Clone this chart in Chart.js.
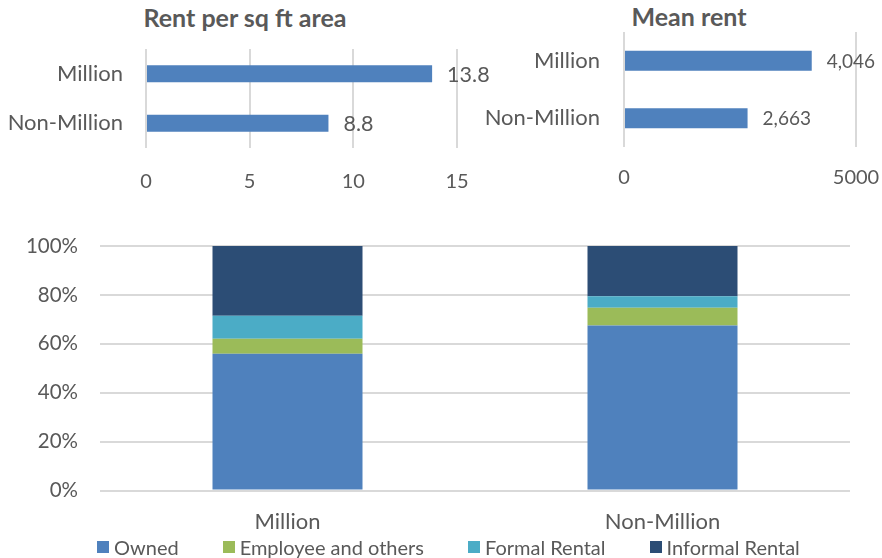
<!DOCTYPE html>
<html>
<head>
<meta charset="utf-8">
<script src="https://cdn.jsdelivr.net/npm/chart.js@4.4.1/dist/chart.umd.min.js"></script>
<style>
  html, body { margin: 0; padding: 0; background: #fff; overflow: hidden; }
  body { width: 882px; height: 558px; position: relative; font-family: Lato, "Open Sans", sans-serif; }
  .box { position: absolute; }
  .title { position: absolute; font-weight: bold; font-size: 25px; color: #595959; transform: translateX(-50%); white-space: nowrap; line-height: 1; }
  #legend { position: absolute; left: 97px; top: 536px; display: flex; gap: 44px; font-size: 20px; color: #595959; line-height: 22px; }
  #legend .item { display: flex; align-items: center; }
  #legend .swatch { width: 12px; height: 12px; margin-right: 5px; }
</style>
</head>
<body>
<div class="title" style="left:245px; top:5px;">Rent per sq ft area</div>
<div class="title" style="left:689px; top:4px;">Mean rent</div>
<div class="box" style="left:0; top:0; width:500px; height:200px;"><canvas id="sqftChart"></canvas></div>
<div class="box" style="left:470px; top:0; width:412px; height:200px;"><canvas id="meanChart"></canvas></div>
<div class="box" style="left:0; top:200px; width:882px; height:358px;"><canvas id="tenureChart"></canvas></div>
<div id="legend"></div>

<script>
// city groups
const groups = ['Million', 'Non-Million'];

// top panels
const rentPerSqFt = [13.8, 8.8];
const meanRent = [4046, 2663];

// tenure shares (%)
const tenureLabels = ['Owned', 'Employee and others', 'Formal Rental', 'Informal Rental'];
const owned = [55.9, 67.5];
const employee = [6.2, 7.2];
const formalRental = [9.4, 4.7];
const informalRental = [28.5, 20.6];

const textColor = '#595959';
const gridColor = '#D9D9D9';
const blue = '#4F81BD';
const tenureColors = ['#4F81BD', '#9BBB59', '#4BACC6', '#2C4D75'];

Chart.defaults.font.family = 'Lato, "Open Sans", sans-serif';
Chart.defaults.color = textColor;
Chart.defaults.animation = false;

// fixed axis size, and no extra room reserved for the tick labels
function fixSize(prop, size) {
    return (scale) => {
        scale[prop] = size;
        scale.paddingTop = scale.paddingBottom = scale.paddingLeft = scale.paddingRight = 0;
    };
}

// writes the value just past the end of each bar
function valueLabels(format, size, gap) {
    return {
        id: 'valueLabels',
        afterDatasetsDraw(chart) {
            const ctx = chart.ctx;
            const meta = chart.getDatasetMeta(0);
            ctx.save();
            ctx.font = size + 'px Lato, "Open Sans", sans-serif';
            ctx.fillStyle = textColor;
            ctx.textAlign = 'left';
            ctx.textBaseline = 'middle';
            meta.data.forEach((bar, i) => {
                ctx.fillText(format(chart.data.datasets[0].data[i]), bar.x + gap, bar.y + 1);
            });
            ctx.restore();
        }
    };
}

function hbarOptions(o) {
    return {
        indexAxis: 'y',
        responsive: true,
        maintainAspectRatio: false,
        layout: { padding: { top: o.top, right: o.right, bottom: 0, left: 0 } },
        plugins: { legend: { display: false }, tooltip: { enabled: false } },
        scales: {
            x: {
                min: 0,
                max: o.max,
                ticks: { stepSize: o.step, padding: o.tickPad, font: { size: 20 }, color: textColor, callback: v => String(v) },
                grid: { color: gridColor, lineWidth: 2, drawTicks: false },
                border: { display: false },
                afterFit: fixSize('height', o.axisHeight)
            },
            y: {
                ticks: { padding: o.labelPad, font: { size: 22 }, color: textColor },
                grid: { display: false, drawTicks: false },
                border: { display: false },
                afterFit: fixSize('width', o.axisWidth)
            }
        }
    };
}

new Chart(document.getElementById('sqftChart'), {
    type: 'bar',
    data: {
        labels: groups,
        datasets: [{ data: rentPerSqFt, backgroundColor: blue, categoryPercentage: 1, barPercentage: 0.34 }]
    },
    options: hbarOptions({ top: 49, right: 43, max: 15, step: 5, tickPad: 22, axisHeight: 52, labelPad: 23, axisWidth: 146 }),
    plugins: [valueLabels(v => v.toFixed(1), 21.5, 15)]
});

new Chart(document.getElementById('meanChart'), {
    type: 'bar',
    data: {
        labels: groups,
        datasets: [{ data: meanRent, backgroundColor: blue, categoryPercentage: 1, barPercentage: 0.35 }]
    },
    options: hbarOptions({ top: 32, right: 26, max: 5000, step: 5000, tickPad: 19, axisHeight: 53, labelPad: 24, axisWidth: 154 }),
    plugins: [valueLabels(v => v.toLocaleString('en-US'), 19, 15)]
});

const tenureSeries = [owned, employee, formalRental, informalRental];

const tenureChart = new Chart(document.getElementById('tenureChart'), {
    type: 'bar',
    data: {
        labels: groups,
        datasets: tenureSeries.map((values, i) => ({
            label: tenureLabels[i],
            data: values,
            backgroundColor: tenureColors[i],
            categoryPercentage: 1,
            barPercentage: 0.4
        }))
    },
    options: {
        responsive: true,
        maintainAspectRatio: false,
        layout: { padding: { top: 46, right: 32, bottom: 0, left: 0 } },
        plugins: { legend: { display: false }, tooltip: { enabled: false } },
        scales: {
            x: {
                stacked: true,
                ticks: { padding: 18, font: { size: 22 }, color: textColor },
                grid: { display: false, drawTicks: false },
                border: { display: false },
                afterFit: fixSize('height', 67.5)
            },
            y: {
                stacked: true,
                min: 0,
                max: 100,
                ticks: { stepSize: 20, padding: 22, font: { size: 20.5 }, color: textColor, callback: v => v + '%' },
                grid: { color: gridColor, lineWidth: 2, drawTicks: false },
                border: { display: false },
                afterFit: fixSize('width', 100)
            }
        }
    }
});

// legend row under the stacked bars
const legendEl = document.getElementById('legend');
tenureChart.data.datasets.forEach(ds => {
    const item = document.createElement('div');
    item.className = 'item';
    const sw = document.createElement('span');
    sw.className = 'swatch';
    sw.style.background = ds.backgroundColor;
    const txt = document.createElement('span');
    txt.textContent = ds.label;
    item.appendChild(sw);
    item.appendChild(txt);
    legendEl.appendChild(item);
});
</script>
</body>
</html>
